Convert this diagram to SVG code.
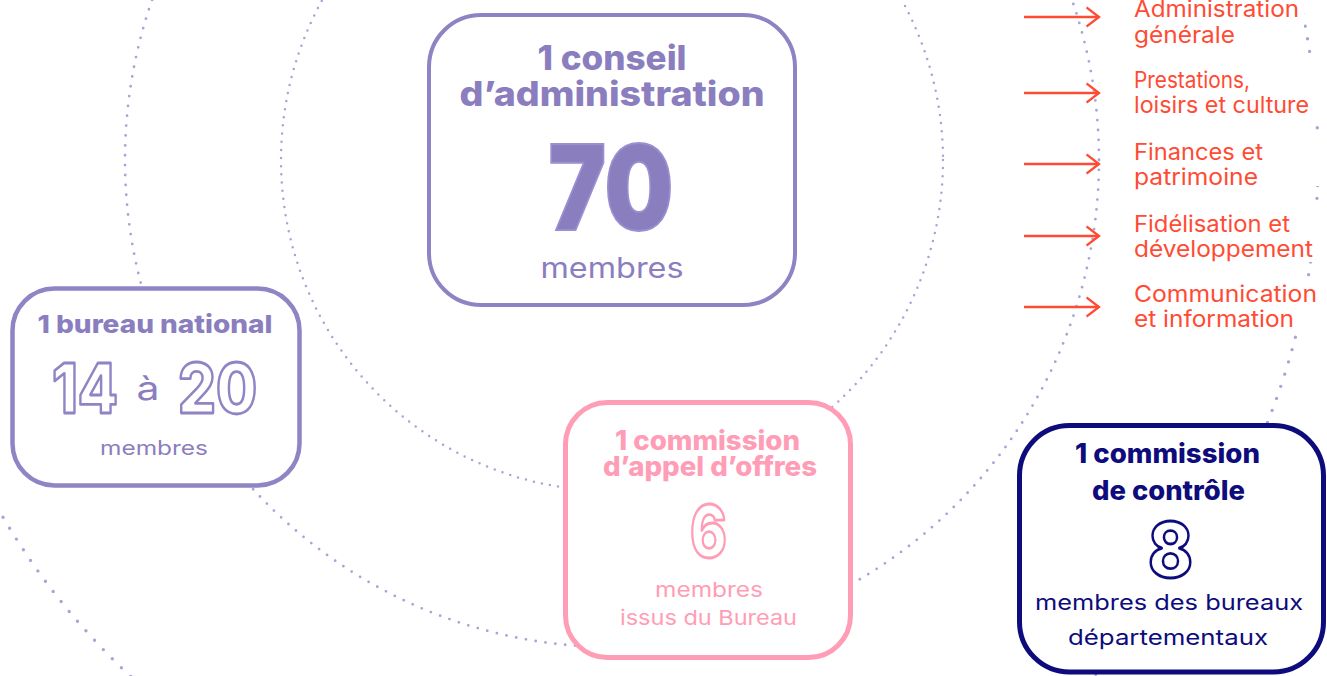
<svg xmlns="http://www.w3.org/2000/svg" width="1327" height="676" viewBox="0 0 1327 676">
<defs>
<style>
.orbit{fill:none;stroke:#a8a4d6;stroke-linecap:round}
.box{fill:#fff}
.t{font-family:Inter,"Liberation Sans",sans-serif;text-anchor:middle}
.b{font-weight:800}
.r{font-weight:400}
.lav{fill:#8a7ebf}
.pink{fill:#ff9db6}
.navy{fill:#0e0c7c}
.red{font-family:Inter,"Liberation Sans",sans-serif;font-size:22.5px;fill:#ff4b33;font-weight:400}
.out{font-weight:800;fill:#fff;stroke-width:2.8;stroke-linejoin:round}
.arrow{stroke:#ff4b33;stroke-width:2.3;fill:none}
.bg{fill:#fff}
</style>
<marker id="chev" viewBox="0 0 15 22" refX="13.5" refY="11" markerWidth="15" markerHeight="22" markerUnits="userSpaceOnUse" orient="auto">
<path d="M1,1.5 L13.5,11 L1,20.5" fill="none" stroke="#ff4b33" stroke-width="2.3"/>
</marker>
</defs>
<rect width="1327" height="676" fill="#fff"/>

<g id="orbits">
<circle class="orbit" cx="612" cy="160" r="331" stroke-width="2.5" stroke-dasharray="0 8.2"/>
<circle class="orbit" cx="612" cy="160" r="487" stroke-width="2.8" stroke-dasharray="0 9.9"/>
<circle class="orbit" cx="612" cy="160" r="706" stroke-width="3.4" stroke-dasharray="0 12.8"/>
</g>

<g id="commission-labels-bg">
<rect class="bg" x="1128" y="0" width="176" height="48"/>
<rect class="bg" x="1128" y="62" width="194" height="56"/>
<rect class="bg" x="1128" y="138" width="194" height="48"/>
<rect class="bg" x="1128" y="208" width="194" height="54"/>
<rect class="bg" x="1128" y="282" width="194" height="46"/>
</g>

<g id="connectors">
<line class="arrow" x1="1024" y1="17" x2="1099" y2="17" marker-end="url(#chev)"/>
<line class="arrow" x1="1024" y1="93" x2="1099" y2="93" marker-end="url(#chev)"/>
<line class="arrow" x1="1024" y1="164" x2="1099" y2="164" marker-end="url(#chev)"/>
<line class="arrow" x1="1024" y1="236" x2="1099" y2="236" marker-end="url(#chev)"/>
<line class="arrow" x1="1024" y1="307" x2="1099" y2="307" marker-end="url(#chev)"/>
</g>

<g id="conseil">
<rect class="box" x="429" y="15" width="366" height="290" rx="52" stroke="#9083c4" stroke-width="4"/>
<text class="t b lav" x="612" y="70" font-size="34" textLength="149" lengthAdjust="spacingAndGlyphs">1 conseil</text>
<text class="t b lav" x="612" y="106" font-size="34" textLength="305" lengthAdjust="spacingAndGlyphs">d’administration</text>
<text class="t lav" x="611" y="230" font-size="118" font-weight="900" textLength="125" lengthAdjust="spacingAndGlyphs" stroke="#9a8fd0" stroke-width="2">70</text>
<text class="t r lav" x="612" y="278" font-size="28" textLength="143" lengthAdjust="spacingAndGlyphs">membres</text>
</g>

<g id="bureau">
<rect class="box" x="12.5" y="288.5" width="287" height="197" rx="42" stroke="#9184c5" stroke-width="4.5"/>
<text class="t b lav" x="155" y="333" font-size="25" textLength="235" lengthAdjust="spacingAndGlyphs">1 bureau national</text>
<text class="t out" x="85" y="413" font-size="69" stroke="#9184c5" textLength="66" lengthAdjust="spacingAndGlyphs">14</text>
<text class="t r lav" x="148" y="400" font-size="33" textLength="23" lengthAdjust="spacingAndGlyphs">à</text>
<text class="t out" x="217.5" y="413" font-size="69" stroke="#9184c5" textLength="79" lengthAdjust="spacingAndGlyphs">20</text>
<text class="t r lav" x="154" y="455" font-size="19.5" textLength="108" lengthAdjust="spacingAndGlyphs">membres</text>
</g>

<g id="appel-offres">
<rect class="box" x="565.5" y="402.5" width="285" height="255" rx="42" stroke="#ff9db6" stroke-width="5"/>
<text class="t b pink" x="707.5" y="450" font-size="27" textLength="185" lengthAdjust="spacingAndGlyphs">1 commission</text>
<text class="t b pink" x="710" y="476" font-size="27" textLength="214" lengthAdjust="spacingAndGlyphs">d’appel d’offres</text>
<text class="t out" x="708.5" y="557" font-size="72" stroke="#ff9db6" textLength="37" lengthAdjust="spacingAndGlyphs">6</text>
<text class="t r pink" x="709" y="597" font-size="20.5" textLength="108" lengthAdjust="spacingAndGlyphs">membres</text>
<text class="t r pink" x="708.5" y="625" font-size="20.5" textLength="177" lengthAdjust="spacingAndGlyphs">issus du Bureau</text>
</g>

<g id="controle">
<rect class="box" x="1019.5" y="425.5" width="304" height="246.5" rx="50" stroke="#0e0c7c" stroke-width="5"/>
<text class="t b navy" x="1167.5" y="463" font-size="27" textLength="185" lengthAdjust="spacingAndGlyphs">1 commission</text>
<text class="t b navy" x="1168.5" y="500" font-size="27" textLength="153" lengthAdjust="spacingAndGlyphs">de contrôle</text>
<text class="t out" x="1170.5" y="577" font-size="76" stroke="#0e0c7c" stroke-width="3.2" textLength="45" lengthAdjust="spacingAndGlyphs">8</text>
<text class="t r navy" x="1169" y="610" font-size="21.5" textLength="268" lengthAdjust="spacingAndGlyphs">membres des bureaux</text>
<text class="t r navy" x="1168" y="645" font-size="21.5" textLength="200" lengthAdjust="spacingAndGlyphs">départementaux</text>
</g>

<g id="admin-generale"><text class="red" x="1134" y="17" textLength="165" lengthAdjust="spacingAndGlyphs">Administration</text><text class="red" x="1134" y="43" textLength="101" lengthAdjust="spacingAndGlyphs">générale</text></g>
<g id="prestations"><text class="red" x="1134" y="88" textLength="116" lengthAdjust="spacingAndGlyphs">Prestations,</text><text class="red" x="1134" y="113" textLength="175" lengthAdjust="spacingAndGlyphs">loisirs et culture</text></g>
<g id="finances"><text class="red" x="1134" y="160" textLength="129" lengthAdjust="spacingAndGlyphs">Finances et</text><text class="red" x="1134" y="185" textLength="124" lengthAdjust="spacingAndGlyphs">patrimoine</text></g>
<g id="fidelisation"><text class="red" x="1134" y="232" textLength="156" lengthAdjust="spacingAndGlyphs">Fidélisation et</text><text class="red" x="1134" y="257" textLength="179" lengthAdjust="spacingAndGlyphs">développement</text></g>
<g id="communication"><text class="red" x="1134" y="302" textLength="183" lengthAdjust="spacingAndGlyphs">Communication</text><text class="red" x="1134" y="327" textLength="160" lengthAdjust="spacingAndGlyphs">et information</text></g>
</svg>
